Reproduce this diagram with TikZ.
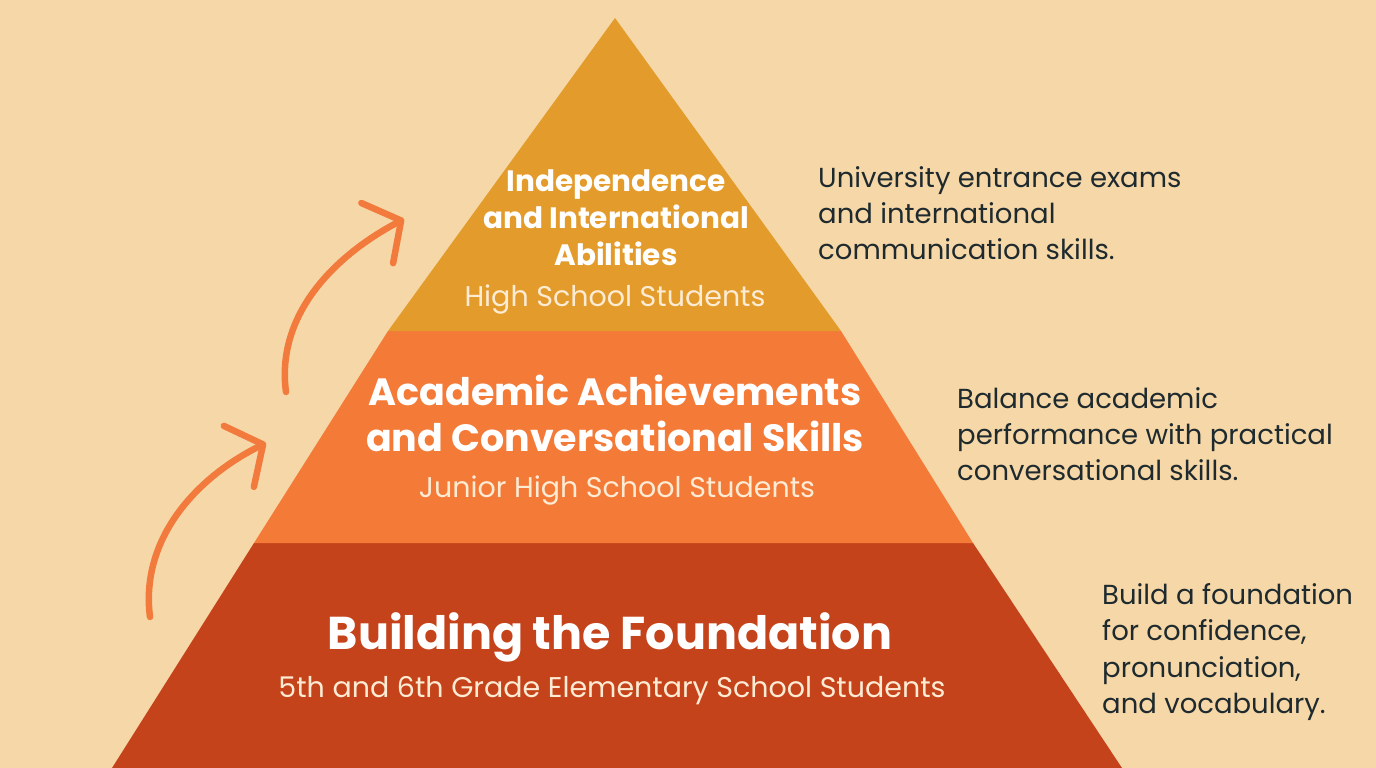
\documentclass[tikz,border=0pt]{standalone}
\usepackage{fontspec}
\setmainfont{Poppins}
\usetikzlibrary{arrows.meta}
\definecolor{bgpeach}{HTML}{F6D7A7}
\definecolor{tiertop}{HTML}{E39C2B}
\definecolor{tiermid}{HTML}{F47A38}
\definecolor{tierbot}{HTML}{C5431A}
\definecolor{arrorange}{HTML}{F27A3C}
\definecolor{inkdark}{HTML}{1E2A2E}
\definecolor{subcream}{HTML}{FDEBD3}
\begin{document}
\begin{tikzpicture}[x=1pt,y=-1pt,
      title/.style={text=white,align=center,inner sep=0pt},
      subtitle/.style={text=subcream,align=center,inner sep=0pt,
        font=\fontsize{28.5}{34}\selectfont},
      note/.style={text=inkdark,align=left,anchor=west,inner sep=0pt},
      climb/.style={arrorange,line width=6.5pt,line cap=round,
        -{Straight Barb[length=27pt,width=68pt,line cap=round,line join=round]}}]
    \useasboundingbox (0,0) rectangle (1376,768);
    \fill[bgpeach] (0,0) rectangle (1376,768);
    % pyramid tiers
    \fill[tierbot] (254,543) -- (973,543) -- (1122,768) -- (112,768) -- cycle;
    \fill[tiermid] (388,331) -- (841,331) -- (973,543) -- (254,543) -- cycle;
    \fill[tiertop] (615,18) -- (841,331) -- (388,331) -- cycle;
    % tier texts
    \node[title,font=\fontsize{29.5}{37}\selectfont\bfseries] at (616,218) (T1) {Independence\\and International\\Abilities};
    \node[subtitle] at (615,300) (S1) {High School Students};
    \node[title,font=\fontsize{38}{46}\selectfont\bfseries] at (615,413) (T2) {Academic Achievements\\and Conversational Skills};
    \node[subtitle] at (617,490) (S2) {Junior High School Students};
    \node[title,font=\fontsize{46}{54}\selectfont\bfseries] at (610,637) (T3) {Building the Foundation};
    \node[subtitle] at (612,691) (S3) {5th and 6th Grade Elementary School Students};
    % side notes
    \node[note,font=\fontsize{27.5}{36}\selectfont] at (818,213) (N1) {University entrance exams\\and international\\communication skills.};
    \node[note,font=\fontsize{27.5}{36}\selectfont] at (957,434) (N2) {Balance academic\\performance with practical\\conversational skills.};
    \node[note,font=\fontsize{27.5}{36.3}\selectfont] at (1102,652) (N3) {Build a foundation\\for confidence,\\pronunciation,\\and vocabulary.};
    % growth arrows
    \coordinate (A1s) at (150,617);
    \coordinate (A1e) at (266,443);
    \coordinate (A2s) at (286,392);
    \coordinate (A2e) at (404,219);
    \draw[climb] (A1s) .. controls (140,540) and (195,478) .. (A1e);
    \draw[climb] (A2s) .. controls (276,318) and (330,258) .. (A2e);
\end{tikzpicture}
\end{document}
